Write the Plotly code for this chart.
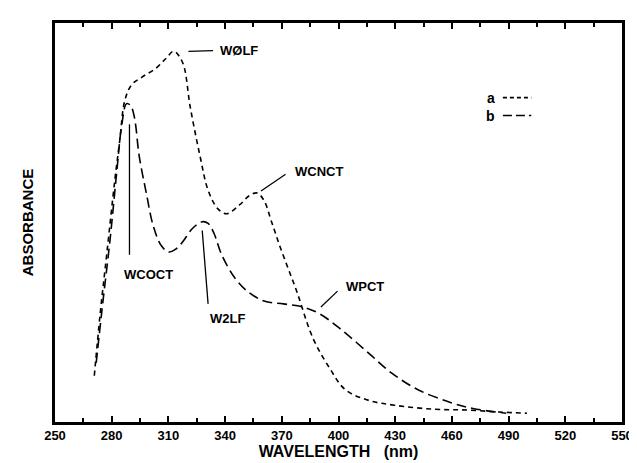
import plotly.graph_objects as go

# Curve a (short dashes)
wl_a = [270.8, 273.9, 277.5, 281.7, 284.3, 286.9, 290.5, 296.2, 303.5, 308.7, 312.8,
        317.5, 321.6, 326.8, 331.0, 336.2, 340.8, 347.6, 352.8, 356.9, 360.6, 364.7,
        369.4, 377.7, 386.5, 395.3, 403.6, 416.1, 429.6, 450.3, 468.0, 485.1, 499.7]
abs_a = [0.116, 0.271, 0.426, 0.608, 0.707, 0.805, 0.845, 0.865, 0.887, 0.911, 0.929,
         0.901, 0.788, 0.665, 0.581, 0.534, 0.522, 0.544, 0.567, 0.574, 0.555, 0.500,
         0.435, 0.330, 0.210, 0.135, 0.081, 0.054, 0.042, 0.032, 0.030, 0.025, 0.022]

# Curve b (long dashes)
wl_b = [271.8, 274.9, 279.1, 282.7, 285.3, 287.9, 290.0, 292.0, 294.6, 298.3, 301.9,
        306.1, 310.2, 313.8, 317.5, 322.7, 327.9, 331.0, 334.1, 338.2, 345.0, 351.7,
        360.6, 370.9, 381.3, 390.1, 402.1, 416.1, 428.0, 442.0, 459.2, 471.1, 488.7]
abs_b = [0.148, 0.283, 0.456, 0.628, 0.744, 0.798, 0.793, 0.764, 0.665, 0.574, 0.493,
         0.443, 0.426, 0.433, 0.451, 0.485, 0.502, 0.498, 0.473, 0.419, 0.362, 0.328,
         0.303, 0.296, 0.288, 0.271, 0.229, 0.172, 0.123, 0.081, 0.049, 0.034, 0.022]

x_ticks = [250, 280, 310, 340, 370, 400, 430, 460, 490, 520, 550]

# Peak labels: (text, text x, text y, anchor, leader x0, y0, x1, y1)
labels = [
    ("WØLF", 336.2, 0.931, "left", 320.6, 0.929, 333.6, 0.931),
    ("WCNCT", 376.1, 0.628, "left", 359.0, 0.579, 372.0, 0.621),
    ("WCOCT", 299.3, 0.369, "center", 289.4, 0.746, 289.4, 0.419),
    ("W2LF", 341.3, 0.259, "center", 327.9, 0.480, 331.0, 0.296),
    ("WPCT", 403.1, 0.340, "left", 390.7, 0.288, 399.5, 0.328),
]

FONT = "Liberation Sans"
fig = go.Figure()
fig.add_trace(go.Scatter(x=wl_a, y=abs_a, mode="lines", name="a", line_shape="spline",
                         line=dict(color="black", width=1.6, dash="5px,4px")))
fig.add_trace(go.Scatter(x=wl_b, y=abs_b, mode="lines", name="b", line_shape="spline",
                         line=dict(color="black", width=1.6, dash="10px,5px")))

for txt, tx, ty, anc, x0, y0, x1, y1 in labels:
    fig.add_shape(type="line", x0=x0, y0=y0, x1=x1, y1=y1, xref="x", yref="y",
                  line=dict(color="black", width=1.3))
    fig.add_annotation(x=tx, y=ty, text="<b>%s</b>" % txt, showarrow=False,
                       xanchor=anc, yanchor="middle", xref="x", yref="y",
                       font=dict(family=FONT, size=13, color="black"))

# legend drawn as letter + line sample
legend_items = [("a", 0.813, "4px,3px"), ("b", 0.768, "9px,4px")]
for name, ly, dash in legend_items:
    fig.add_annotation(x=484, y=ly, text="<b>%s</b>" % name, showarrow=False,
                       xanchor="right", yanchor="middle", xref="x", yref="y",
                       font=dict(family=FONT, size=14, color="black"))
    fig.add_shape(type="line", x0=487, y0=ly, x1=502, y1=ly, xref="x", yref="y",
                  line=dict(color="black", width=1.6, dash=dash))

fig.update_layout(
    width=637, height=463,
    margin=dict(l=47, r=12, t=14, b=43),
    paper_bgcolor="white", plot_bgcolor="white",
    showlegend=False,
    font=dict(family=FONT, color="black"),
)
fig.update_xaxes(range=[250, 550], tickvals=x_ticks, ticktext=[str(v) for v in x_ticks],
                 ticks="inside", ticklen=6, tickwidth=1.5, tickcolor="black",
                 minor=dict(dtick=15, tick0=250, ticks="inside", ticklen=4, tickcolor="black"),
                 showline=True, linewidth=2.5, linecolor="black", mirror="allticks",
                 showgrid=False, zeroline=False,
                 tickfont=dict(family=FONT, size=13, color="black", weight="bold"),
                 title=dict(text="<b>WAVELENGTH   (nm)</b>", standoff=4,
                            font=dict(family=FONT, size=16, color="black")))
fig.update_yaxes(range=[0, 1], showticklabels=False, ticks="",
                 showline=True, linewidth=2.5, linecolor="black", mirror=True,
                 showgrid=False, zeroline=False,
                 title=dict(text="<b>ABSORBANCE</b>", standoff=16,
                            font=dict(family=FONT, size=15, color="black")))

fig.write_html("out.html")
